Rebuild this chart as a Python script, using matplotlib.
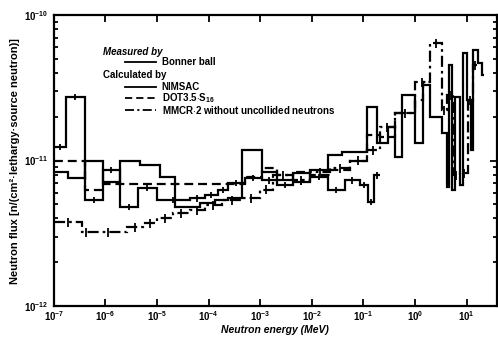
import numpy as np
import matplotlib
matplotlib.use('Agg')
import matplotlib.pyplot as plt
from matplotlib.ticker import FixedLocator, FixedFormatter, LogLocator, NullLocator, NullFormatter

plt.rcParams['font.family'] = ['Liberation Sans', 'DejaVu Sans']
plt.rcParams['font.weight'] = 'bold'
plt.rcParams['mathtext.fontset'] = 'custom'
plt.rcParams['mathtext.rm'] = 'Liberation Sans:bold'
plt.rcParams['mathtext.bf'] = 'Liberation Sans:bold'
plt.rcParams['mathtext.it'] = 'Liberation Sans:bold:italic'
plt.rcParams['mathtext.default'] = 'bf'

# ---------------- data ----------------
x_ticks = [1e-7, 1e-6, 1e-5, 1e-4, 1e-3, 1e-2, 1e-1, 1e0, 1e1]
x_tick_labels = [r'$10^{-7}$', r'$10^{-6}$', r'$10^{-5}$', r'$10^{-4}$', r'$10^{-3}$',
                 r'$10^{-2}$', r'$10^{-1}$', r'$10^{0}$', r'$10^{1}$']
y_ticks = [1e-12, 1e-11, 1e-10]
y_tick_labels = [r'$10^{-12}$', r'$10^{-11}$', r'$10^{-10}$']

# Measured: Bonner ball (bin edges in MeV, flux per bin)
bonner_edges = [1e-7, 1.71e-7, 4.0e-7, 8.9e-7, 1.9e-6, 4.25e-6, 9.9e-6, 4.3e-5, 8.4e-5,
                1.51e-4, 2.35e-4, 5.0e-4, 1.07e-3, 2.1e-3, 4.3e-3, 9.1e-3, 2.04e-2,
                4.36e-2, 8.5e-2, 0.122, 0.159, 0.208]
bonner_flux = [1.24e-11, 2.73e-11, 5.35e-12, 8.6e-12, 4.8e-12, 6.5e-12, 5.35e-12, 5.5e-12,
               5.8e-12, 6.3e-12, 7.0e-12, 7.6e-12, 7.3e-12, 6.8e-12, 7.1e-12, 7.7e-12,
               6.3e-12, 7.3e-12, 6.8e-12, 5.2e-12, 7.9e-12]
bonner_rel_err = 0.05

# Calculated: NIMSAC
nimsac_edges = [1e-7, 1.87e-7, 4.0e-7, 8.9e-7, 1.9e-6, 4.6e-6, 1.13e-5, 2.2e-5, 6.75e-5,
                1.32e-4, 2.35e-4, 4.4e-4, 1.07e-3, 2.1e-3, 4.3e-3, 9.1e-3, 2.04e-2, 3.8e-2,
                0.116, 0.182, 0.297, 0.406, 0.555, 0.99, 1.42, 1.94, 3.31, 4.13, 4.52, 5.16,
                5.9, 7.4, 8.44, 10.1, 12.0, 13.2, 16.5, 19.7, 21.5]
nimsac_flux = [8.3e-12, 7.6e-12, 1.0e-11, 7.1e-12, 1.0e-11, 9.3e-12, 7.7e-12, 4.8e-12,
               5.1e-12, 5.35e-12, 5.5e-12, 1.18e-11, 8.3e-12, 7.3e-12, 8.2e-12, 8.6e-12,
               1.09e-11, 1.14e-11, 2.33e-11, 1.32e-11, 1.70e-11, 1.06e-11, 2.82e-11,
               1.32e-11, 3.3e-11, 1.99e-11, 1.55e-11, 6.6e-12, 4.53e-11, 6.3e-12, 2.73e-11,
               6.8e-12, 5.48e-11, 2.6e-11, 1.18e-11, 5.75e-11, 4.68e-11, 3.87e-11]

# Calculated: DOT3.5 S16
dot_edges = [1e-7, 4.0e-7, 8.9e-7, 5.0e-4, 1.07e-3, 2.1e-3, 4.3e-3, 9.1e-3, 2.23e-2,
             5.45e-2, 0.116, 0.208, 0.406, 0.99, 1.42, 1.94]
dot_flux = [1.0e-11, 6.3e-12, 6.9e-12, 7.7e-12, 8.9e-12, 7.9e-12, 8.3e-12, 7.9e-12,
            8.6e-12, 1.0e-11, 1.5e-11, 1.45e-11, 2.12e-11, 2.6e-11, 3.46e-11]

# Calculated: MMCR-2 without uncollided neutrons
mmcr_edges = [1e-7, 3.49e-7, 4.99e-7, 2.6e-6, 5.3e-6, 9.9e-6, 2.02e-5, 4.3e-5, 8.4e-5,
              1.80e-4, 4.4e-4, 9.8e-4, 1.75e-3, 4.3e-3, 9.1e-3, 2.23e-2, 5.45e-2, 0.116,
              0.208, 0.406, 0.99, 1.94, 3.31, 4.13, 5.41, 7.4, 10.55, 13.2, 16.5]
mmcr_flux = [3.78e-12, 3.23e-12, 3.23e-12, 3.49e-12, 3.72e-12, 4.03e-12, 4.36e-12,
             4.57e-12, 4.95e-12, 5.35e-12, 5.5e-12, 6.3e-12, 7.9e-12, 7.3e-12, 8.3e-12,
             8.9e-12, 1.0e-11, 1.18e-11, 1.70e-11, 2.12e-11, 3.46e-11, 6.42e-11, 2.22e-11,
             2.82e-11, 7.9e-12, 8.2e-12, 2.6e-11, 4.53e-11]
mmcr_rel_err = 0.07

legend_labels = ['Bonner ball', 'NIMSAC', r'DOT3.5$\cdot$S$_{16}$',
                 'MMCR$\\cdot$2 without uncollided neutrons']

# ---------------- figure ----------------
fig = plt.figure(figsize=(4.98, 3.37), dpi=100)
ax = fig.add_axes([0.108, 0.092, 0.889, 0.863])
ax.set_xscale('log')
ax.set_yscale('log')
ax.set_xlim(1e-7, 38)
ax.set_ylim(1e-12, 1e-10)

lw = 1.6
dash_style = (0, (4, 2.2))
dashdot_style = (0, (5, 1.8, 1.2, 1.8))

ax.stairs(nimsac_flux, nimsac_edges, baseline=None, color='black', lw=lw)
ax.stairs(bonner_flux, bonner_edges, baseline=None, color='black', lw=lw)
ax.stairs(dot_flux, dot_edges, baseline=None, color='black', lw=lw, linestyle=dash_style)
ax.stairs(mmcr_flux, mmcr_edges, baseline=None, color='black', lw=lw, linestyle=dashdot_style)

be = np.array(bonner_edges)
bc = np.sqrt(be[:-1] * be[1:])
bf = np.array(bonner_flux)
ax.errorbar(bc, bf, yerr=bf * bonner_rel_err, fmt='none', ecolor='black', elinewidth=1.3, capsize=0)
me = np.array(mmcr_edges)
mc = np.sqrt(me[:-1] * me[1:])
mf = np.array(mmcr_flux)
ax.errorbar(mc, mf, yerr=mf * mmcr_rel_err, fmt='none', ecolor='black', elinewidth=1.3, capsize=0)

# ticks
ax.xaxis.set_major_locator(FixedLocator(x_ticks))
ax.xaxis.set_major_formatter(FixedFormatter(x_tick_labels))
ax.xaxis.set_minor_locator(NullLocator())
ax.yaxis.set_major_locator(FixedLocator(y_ticks))
ax.yaxis.set_major_formatter(FixedFormatter(y_tick_labels))
ax.yaxis.set_minor_locator(LogLocator(base=10, subs=np.arange(2, 10)))
ax.yaxis.set_minor_formatter(NullFormatter())
ax.tick_params(which='both', direction='in', top=True, right=True, labelsize=7, width=1.3)
ax.tick_params(which='major', length=5)
ax.tick_params(axis='x', which='major', pad=2.5)
ax.tick_params(axis='y', which='major', pad=4)
ax.tick_params(which='minor', length=3)
for s in ax.spines.values():
    s.set_linewidth(1.6)

ax.set_xlabel('Neutron energy (MeV)', fontsize=7.5, fontweight='bold', fontstyle='italic', labelpad=1)
ax.set_ylabel('Neutron flux [n/(cm²·lethargy·source neutron)]', fontsize=8, fontweight='bold', labelpad=3)

# legend block
tr = ax.transAxes
ax.text(0.111, 0.873, 'Measured by', transform=tr, fontsize=7, fontweight='bold',
        fontstyle='italic', va='center', ha='left')
ax.text(0.111, 0.794, 'Calculated by', transform=tr, fontsize=7, fontweight='bold',
        va='center', ha='left')
rows_y = [0.838, 0.753, 0.715, 0.674]
styles = ['-', '-', dash_style, dashdot_style]
for yy, st, lab in zip(rows_y, styles, legend_labels):
    ax.plot([0.160, 0.232], [yy, yy], transform=tr, color='black', lw=1.3, linestyle=st)
    ax.text(0.244, yy, lab, transform=tr, fontsize=7, fontweight='bold', va='center', ha='left')

fig.savefig('out.png', dpi=100)
